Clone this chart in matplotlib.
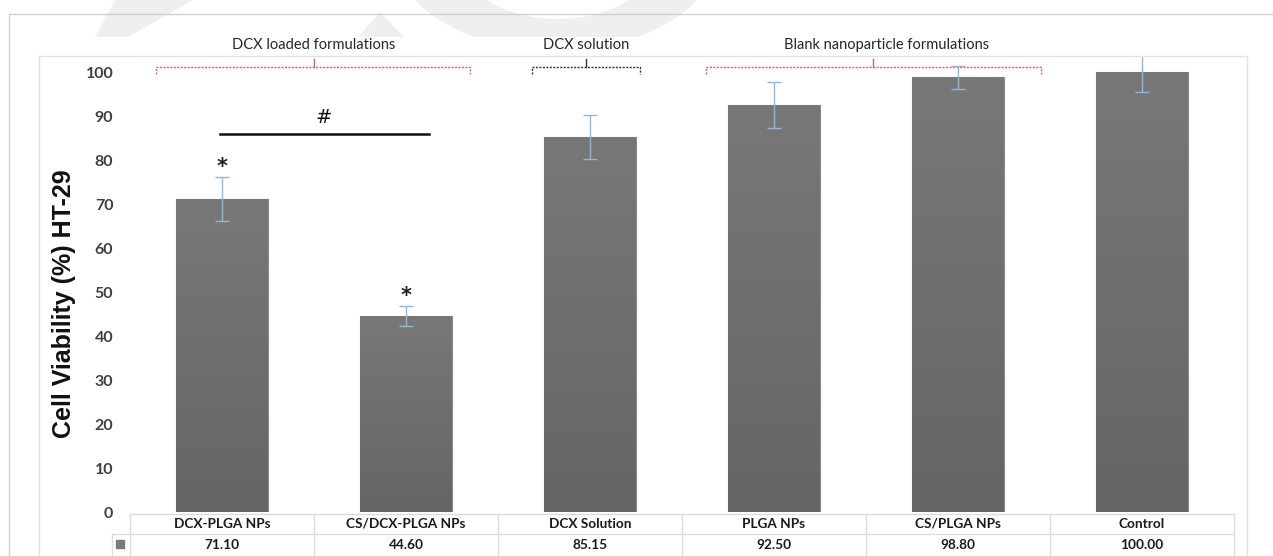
import matplotlib
matplotlib.use("Agg")
import matplotlib.pyplot as plt
import numpy as np
from matplotlib import transforms
from matplotlib.lines import Line2D
from matplotlib.patches import Polygon, Ellipse, Rectangle
from matplotlib.colors import LinearSegmentedColormap

# ---------------- data ----------------
categories = ["DCX-PLGA NPs", "CS/DCX-PLGA NPs", "DCX Solution", "PLGA NPs", "CS/PLGA NPs", "Control"]
viability = [71.10, 44.60, 85.15, 92.50, 98.80, 100.00]
errors = [5.0, 2.3, 5.0, 5.2, 2.6, 4.5]
value_labels = ["71.10", "44.60", "85.15", "92.50", "98.80", "100.00"]
yticks = [0, 10, 20, 30, 40, 50, 60, 70, 80, 90, 100]
star_idx = [0, 1]
groups = [("DCX loaded formulations", -0.36, 1.35, 0.50, 0.50, "#e06060"),
          ("DCX solution", 1.685, 2.27, 1.98, 1.98, "#333333"),
          ("Blank nanoparticle formulations", 2.63, 4.45, 3.54, 3.61, "#e06060")]

W, H = 1273, 556
fig = plt.figure(figsize=(W / 100, H / 100), dpi=100)
fig.patch.set_facecolor("white")

def fx(x):
    return x / W

def fy(y):
    return 1 - y / H

# watermark shapes (faint background)
wm = "#efefef"
clip = Rectangle((0, fy(37)), 1, 1, transform=fig.transFigure)
shapes = [
    Polygon([(fx(95), fy(37)), (fx(115), fy(0)), (fx(193), fy(0)), (fx(128), fy(37))], closed=True),
    Polygon([(fx(358), fy(37)), (fx(380), fy(12)), (fx(404), fy(37))], closed=True),
]
for s in shapes:
    s.set_transform(fig.transFigure)
    s.set_facecolor(wm); s.set_edgecolor("none")
    fig.patches.append(s)
outer = Ellipse((fx(556), fy(-45)), 2 * 160 / W, 2 * 95 / H, transform=fig.transFigure,
                facecolor=wm, edgecolor="none")
inner = Ellipse((fx(558), fy(-45)), 2 * 100 / W, 2 * 64 / H, transform=fig.transFigure,
                facecolor="white", edgecolor="none")
for e in (outer, inner):
    e.set_clip_path(clip)
    fig.patches.append(e)

# frames
def fline(xs, ys, color, lw=1.0, **kw):
    fig.lines.append(Line2D([fx(x) for x in xs], [fy(y) for y in ys], transform=fig.transFigure,
                            color=color, lw=lw, **kw))

fline([9, 1273], [14, 14], "#d0d0d0")
fline([9, 9], [14, 556], "#d0d0d0")
fline([39, 1247], [56, 56], "#e3e3e3")
fline([39, 39], [56, 556], "#e3e3e3")
fline([1247, 1247], [56, 556], "#e3e3e3")

# axes
ax = fig.add_axes([fx(130), fy(512), (1234 - 130) / W, (512 - 56) / H])
ax.set_facecolor("none")
x = np.arange(len(categories))
ymax = (512 - 56) / 4.4
bars = ax.bar(x, viability, width=0.5, color="#6e6e6e", edgecolor="#8a8a8a", linewidth=0.8, zorder=2)
cmap = LinearSegmentedColormap.from_list("g", ["#787878", "#656565"])
grad = np.linspace(0, 1, 256).reshape(-1, 1)
for b in bars:
    im = ax.imshow(grad, extent=[b.get_x(), b.get_x() + b.get_width(), 0, b.get_height()],
                   aspect="auto", cmap=cmap, origin="upper", zorder=2.1)
    im.set_clip_path(b)
ax.errorbar(x, viability, yerr=errors, fmt="none", ecolor="#8fb8e0", elinewidth=1.0,
            capsize=5, capthick=1.0, zorder=3)
ax.set_xlim(-0.5, 5.5)
ax.set_ylim(0, ymax)
ax.set_aspect("auto")
for sp in ax.spines.values():
    sp.set_visible(False)
ax.set_xticks([])
ax.set_yticks(yticks)
ax.tick_params(axis="y", length=0, pad=12)
for lab in ax.get_yticklabels():
    lab.set_fontfamily("Lato")
    lab.set_fontweight("bold")
    lab.set_fontsize(11.5)
    lab.set_color("#404040")

# significance marks
for i in star_idx:
    ax.text(x[i], viability[i] + errors[i] + 2.3, "*", ha="center", va="center",
            fontsize=15, fontweight="bold", color="#222222", family="DejaVu Sans")
ax.plot([-0.01, 1.125], [85.9, 85.9], color="#111111", lw=1.8, zorder=3, clip_on=False)
ax.text(0.554, 89.6, "#", ha="center", va="center", fontsize=14, color="#111111", family="DejaVu Sans")

# group brackets
bt = transforms.blended_transform_factory(ax.transData, fig.transFigure)
for name, x0, x1, xm, xt, col in groups:
    ax.plot([x0, x0, x1, x1], [fy(74), fy(66.5), fy(66.5), fy(74)], transform=bt, color=col,
            lw=1.0, ls=(0, (1.5, 1)), clip_on=False)
    ax.plot([xm, xm], [fy(66.5), fy(59)], transform=bt, color=col, lw=1.0, clip_on=False)
    ax.text(xt, fy(45), name, transform=bt, ha="center", va="center", fontsize=10.5,
            family="Lato", color="#262626")

# data table
tc = "#dcdcdc"
edges = np.arange(len(categories) + 1) - 0.5
ax.plot([edges[0], edges[-1]], [fy(513.5), fy(513.5)], transform=bt, color=tc, lw=1, clip_on=False)
ax.plot([-0.6, edges[-1]], [fy(533.5), fy(533.5)], transform=bt, color=tc, lw=1, clip_on=False)
for e in edges:
    ax.plot([e, e], [fy(513.5), fy(556)], transform=bt, color=tc, lw=1, clip_on=False)
ax.plot([-0.6, -0.6], [fy(533.5), fy(556)], transform=bt, color=tc, lw=1, clip_on=False)
ax.scatter([-0.555], [fy(544)], transform=bt, marker="s", s=30, color="#7a7a7a", clip_on=False)
for i, (c, v) in enumerate(zip(categories, value_labels)):
    ax.text(x[i], fy(524), c, transform=bt, ha="center", va="center", fontsize=9.8,
            fontweight="bold", family="Lato", color="#1a1a1a")
    ax.text(x[i], fy(545), v, transform=bt, ha="center", va="center", fontsize=9.8,
            fontweight="bold", family="Lato", color="#1a1a1a")

# y label
fig.text(fx(64), fy(304), "Cell Viability (%) HT-29", rotation=90, ha="center", va="center",
         fontsize=18, fontweight="bold", family="Liberation Sans", color="#111111")

fig.savefig("out.png", dpi=100)
